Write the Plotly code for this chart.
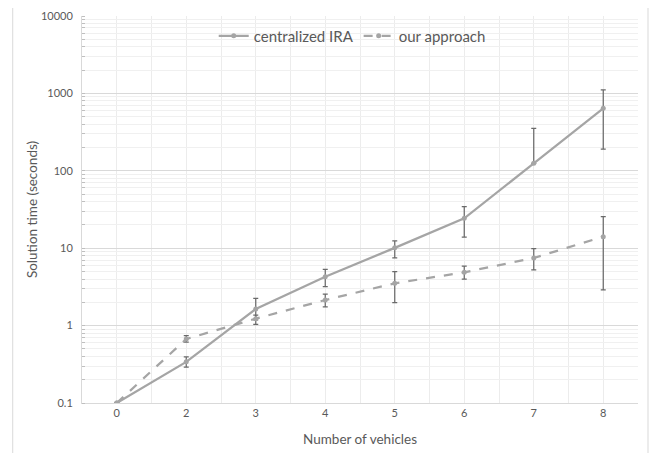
import plotly.graph_objects as go

categories = ["0", "2", "3", "4", "5", "6", "7", "8"]
central_ira = [0.1, 0.34, 1.64, 4.28, 10.1, 24.3, 125, 642]
central_err_plus = [0, 0.055, 0.6, 1.06, 2.3, 10.2, 229, 465]
central_err_minus = [0, 0.05, 0.45, 1.1, 2.6, 10.4, 0, 452]
our_approach = [0.1, 0.67, 1.23, 2.14, 3.52, 4.88, 7.47, 14.1]
our_err_plus = [0, 0.07, 0.14, 0.42, 1.45, 1.0, 2.4, 11.4]
our_err_minus = [0, 0.06, 0.19, 0.39, 1.54, 0.88, 2.24, 11.2]
y_tickvals = [0.1, 1, 10, 100, 1000, 10000]
y_ticktext = ["0.1", "1", "10", "100", "1000", "10000"]

xpos = list(range(len(categories)))
LINE = "#a5a5a5"
ERR = "#6a6a6a"
FONT = "Lato"
TXT = "#595959"

fig = go.Figure()
fig.add_trace(go.Scatter(
    x=xpos, y=central_ira, name="centralized IRA", mode="lines+markers",
    line=dict(color=LINE, width=2.25), marker=dict(color=LINE, size=5),
    error_y=dict(type="data", symmetric=False, array=central_err_plus,
                 arrayminus=central_err_minus, color=ERR, thickness=1.25, width=2.5),
))
fig.add_trace(go.Scatter(
    x=xpos, y=our_approach, name="our approach", mode="lines+markers",
    line=dict(color=LINE, width=2.25, dash="dash"), marker=dict(color=LINE, size=5),
    error_y=dict(type="data", symmetric=False, array=our_err_plus,
                 arrayminus=our_err_minus, color=ERR, thickness=1.25, width=2.5),
))

fig.update_layout(
    width=654, height=445,
    margin=dict(l=74, r=24, t=8, b=50, autoexpand=False),
    paper_bgcolor="white", plot_bgcolor="white",
    font=dict(family=FONT, color=TXT, size=11),
    showlegend=True,
    legend=dict(orientation="h", x=0.486, xanchor="center", y=0.948, yanchor="middle",
                bgcolor="rgba(0,0,0,0)", font=dict(size=15, color=TXT),
                itemwidth=30, traceorder="normal"),
    xaxis=dict(
        range=[-0.5, 7.5], tickvals=xpos, ticktext=categories, automargin=False,
        showgrid=False, zeroline=False,
        showline=True, linecolor="#d9d9d9", linewidth=1,
        ticks="", tickfont=dict(size=11, color=TXT),
        minor=dict(dtick=0.5, tick0=-0.5, showgrid=True, gridcolor="#ececec", gridwidth=1),
        title=dict(text="Number of vehicles", font=dict(size=13.5, color=TXT), standoff=16),
    ),
    yaxis=dict(
        type="log", range=[-1, 4], tickvals=y_tickvals, ticktext=y_ticktext, automargin=False,
        showgrid=True, gridcolor="#d9d9d9", gridwidth=1,
        showline=True, linecolor="#d9d9d9", linewidth=1, zeroline=False,
        ticks="", tickfont=dict(size=11, color=TXT), ticklabelstandoff=6,
        minor=dict(dtick="D1", showgrid=True, gridcolor="#f0f0f0", gridwidth=1,
                   ticks="inside", ticklen=3, tickcolor="#bfbfbf"),
        title=dict(text="Solution time (seconds)", font=dict(size=13.5, color=TXT), standoff=0),
    ),
    shapes=[dict(type="rect", xref="paper", yref="paper",
                 x0=-0.1246, x1=1.018, y0=-0.16, y1=1.028,
                 line=dict(color="#d9d9d9", width=1), fillcolor="rgba(0,0,0,0)", layer="below")],
)

fig.write_html("out.html")
